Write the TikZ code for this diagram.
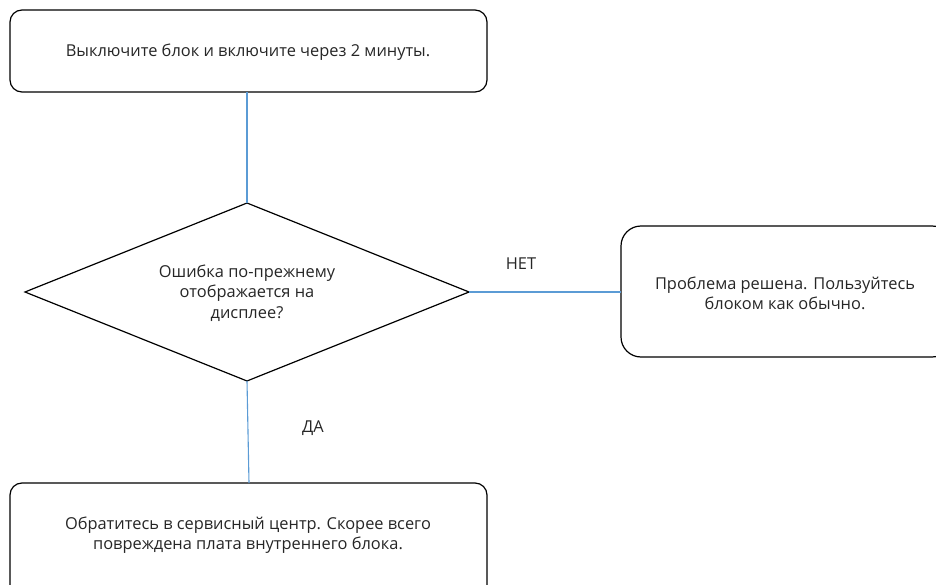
\documentclass[tikz,border=0pt]{standalone}
\usepackage{fontspec}
\setmainfont{Open Sans}
\usetikzlibrary{shapes.geometric}
\definecolor{conn}{HTML}{5B9BD5}
\tikzset{
  box/.style={draw=black, line width=1.2pt, rounded corners=12pt},
  bigbox/.style={draw=black, line width=1.2pt, rounded corners=20pt},
  txt/.style={align=center, font=\fontsize{16.4}{20.5}\selectfont, inner sep=0pt, text=black!85},
  lbl/.style={font=\fontsize{16.4}{19}\selectfont, inner sep=0pt, text=black!85},
  link/.style={draw=conn, line width=1.1pt}
}
\begin{document}
\begin{tikzpicture}[x=1pt,y=-1pt]
\useasboundingbox (0,0) rectangle (936,585);
\clip (0,0) rectangle (936,585);
% shapes
\draw[box] (10,10) rectangle (487,92);
\node[txt] (t1) at (248,52) {Выключите блок и включите через 2 минуты.};
\coordinate (t1s) at (247,92);
\draw[black, line width=1.2pt] (247,203) -- (469,292) -- (247,381) -- (25,292) -- cycle;
\coordinate (dtop) at (247,203);
\coordinate (dright) at (469,292);
\coordinate (dbot) at (247,381);
\node[txt] (d) at (247,293) {Ошибка по-прежнему\\отображается на\\дисплее?};
\draw[bigbox] (621,226) rectangle (952,357);
\coordinate (rl) at (621,292);
\node[txt] (r) at (785,293.5) {Проблема решена. Пользуйтесь\\блоком как обычно.};
\draw[box] (10,483) rectangle (487,600);
\coordinate (bt) at (249,483);
\node[txt] (b) at (248,535) {Обратитесь в сервисный центр. Скорее всего\\повреждена плата внутреннего блока.};
% connectors
\draw[link] (t1s) -- (dtop);
\draw[link] (dright) -- (rl);
\draw[link] (dbot) -- (bt);
\node[lbl] (no) at (521,264) {НЕТ};
\node[lbl] (yes) at (313,428) {ДА};
\end{tikzpicture}
\end{document}
